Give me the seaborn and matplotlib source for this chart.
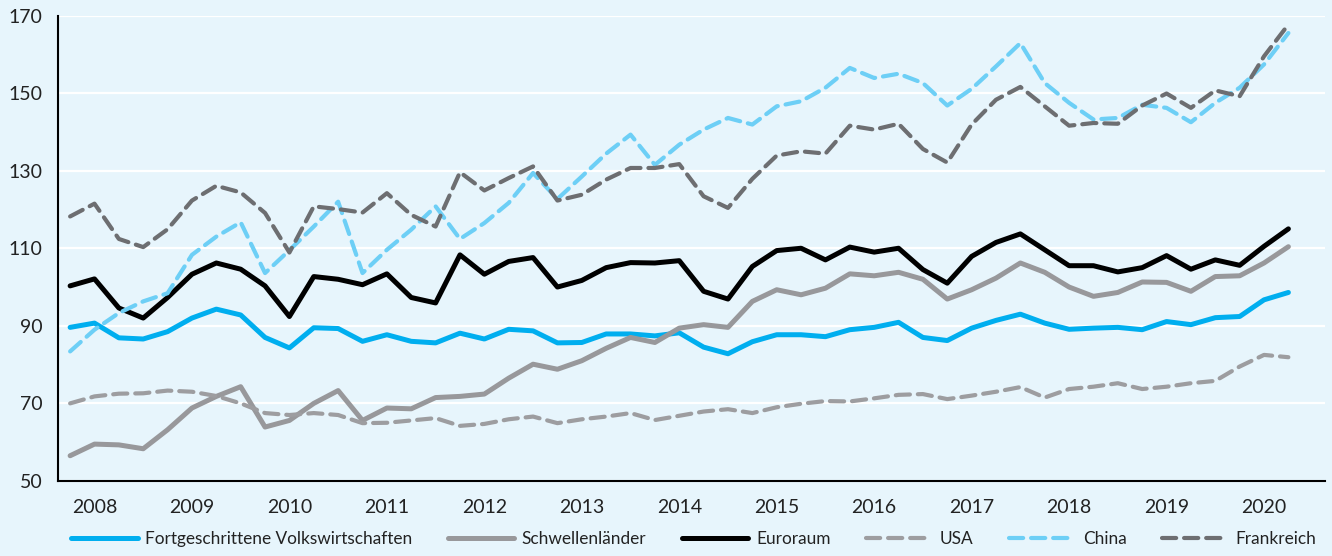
import numpy as np
import pandas as pd
import matplotlib
matplotlib.use("Agg")
import matplotlib.pyplot as plt
import seaborn as sns

# quarterly index values, 2008 Q1 .. 2020 Q3
years = list(range(2008, 2021))
quarters = list(range(51))

fortgeschrittene = [89.6, 90.7, 86.9, 86.6, 88.5, 92.0, 94.3, 92.8, 87.0, 84.3,
                    89.5, 89.3, 86.0, 87.7, 86.0, 85.6, 88.1, 86.6, 89.1, 88.7,
                    85.6, 85.7, 87.9, 87.9, 87.4, 88.2, 84.5, 82.8, 85.9, 87.7,
                    87.7, 87.2, 89.0, 89.6, 90.9, 87.0, 86.2, 89.4, 91.4, 93.0,
                    90.7, 89.1, 89.4, 89.6, 89.0, 91.1, 90.3, 92.1, 92.4, 96.7,
                    98.6]
schwellen = [56.5, 59.5, 59.3, 58.3, 63.2, 68.8, 71.8, 74.3, 63.9, 65.6,
             70.0, 73.3, 65.6, 68.8, 68.6, 71.5, 71.8, 72.4, 76.5, 80.1,
             78.8, 81.0, 84.2, 87.0, 85.7, 89.4, 90.3, 89.6, 96.3, 99.3,
             98.0, 99.7, 103.4, 102.9, 103.8, 102.0, 96.9, 99.3, 102.3, 106.2,
             103.8, 100.0, 97.6, 98.6, 101.3, 101.2, 98.9, 102.7, 102.9, 106.2,
             110.4]
euroraum = [100.3, 102.1, 94.6, 92.0, 97.3, 103.3, 106.2, 104.6, 100.3, 92.4,
            102.7, 102.0, 100.6, 103.4, 97.3, 95.9, 108.3, 103.3, 106.6, 107.6,
            100.0, 101.7, 105.0, 106.3, 106.2, 106.8, 98.9, 96.9, 105.3, 109.4,
            110.0, 107.0, 110.3, 109.0, 110.0, 104.5, 101.0, 107.9, 111.5, 113.7,
            109.6, 105.5, 105.5, 103.9, 105.0, 108.1, 104.6, 107.0, 105.6, 110.5,
            115.0]
usa = [70.0, 71.8, 72.5, 72.6, 73.3, 73.0, 71.9, 70.0, 67.5, 67.0,
       67.5, 67.0, 64.9, 65.0, 65.6, 66.2, 64.2, 64.7, 65.9, 66.6,
       64.9, 65.9, 66.6, 67.5, 65.7, 66.8, 67.9, 68.5, 67.5, 69.0,
       69.9, 70.6, 70.5, 71.3, 72.2, 72.4, 71.1, 72.0, 73.0, 74.2,
       71.5, 73.7, 74.3, 75.2, 73.7, 74.3, 75.2, 75.8, 79.5, 82.5,
       81.9]
china = [83.4, 89.0, 93.3, 96.3, 98.4, 108.3, 113.0, 116.7, 103.6, 109.5,
         115.6, 122.0, 103.6, 109.6, 114.8, 120.8, 112.4, 116.5, 121.7, 129.4,
         122.7, 128.5, 134.4, 139.3, 131.5, 136.7, 140.6, 143.6, 141.9, 146.6,
         147.9, 151.4, 156.5, 153.9, 155.0, 152.6, 146.8, 151.1, 156.9, 162.9,
         152.6, 147.5, 143.2, 143.6, 147.0, 146.2, 142.5, 147.5, 151.4, 157.4,
         165.5]
frankreich = [118.2, 121.5, 112.4, 110.3, 114.9, 122.3, 126.1, 124.4, 119.1, 108.9,
              120.8, 120.1, 119.2, 124.2, 118.6, 115.6, 129.6, 124.9, 128.1, 131.1,
              122.3, 123.8, 127.7, 130.7, 130.7, 131.7, 123.4, 120.4, 127.9, 133.9,
              135.0, 134.4, 141.6, 140.6, 142.1, 135.6, 132.1, 141.9, 148.3, 151.6,
              146.6, 141.6, 142.3, 142.1, 146.8, 149.9, 146.2, 150.7, 149.2, 159.5,
              167.7]

series = [
    ("Fortgeschrittene Volkswirtschaften", fortgeschrittene, "#00aeef", None),
    ("Schwellenländer", schwellen, "#98989b", None),
    ("Euroraum", euroraum, "#000000", None),
    ("USA", usa, "#9d9da0", (3.4, 1.9)),
    ("China", china, "#6dcff6", (3.4, 1.9)),
    ("Frankreich", frankreich, "#6d6e71", (3.4, 1.9)),
]

bg = "#e7f5fc"
sns.set_style("white", {"axes.facecolor": bg, "figure.facecolor": bg})
plt.rcParams["font.family"] = ["Lato", "DejaVu Sans"]

fig, ax = plt.subplots(figsize=(13.32, 5.56), dpi=100)
fig.subplots_adjust(left=0.0435, right=0.9947, top=0.972, bottom=0.135)

for name, vals, col, dash in series:
    df = pd.DataFrame({"quarter": quarters, "value": vals})
    lw = 3.6 if dash is None else 3.0
    sns.lineplot(data=df, x="quarter", y="value", ax=ax, color=col, linewidth=lw,
                 label=name, solid_capstyle="round", dash_capstyle="round")
    if dash is not None:
        ax.lines[-1].set_dashes(dash)

ax.set_xlim(-0.5, 51.5)
ax.set_ylim(50, 170)
ax.set_yticks(range(50, 171, 20))
ax.set_xticks([-0.5 + 4 * k for k in range(14)])
ax.set_xticklabels([])
ax.set_xticks([1 + 4 * k for k in range(13)], minor=True)
ax.set_xticklabels([str(y) for y in years], minor=True)
ax.tick_params(axis="both", which="major", direction="inout", length=8, width=1.5,
               color="black", labelsize=14, labelcolor="#222222")
ax.tick_params(axis="y", pad=7)
ax.tick_params(axis="x", which="minor", length=0, pad=13, labelsize=14,
               labelcolor="#222222")
ax.set_xlabel("")
ax.set_ylabel("")

ax.yaxis.grid(True, color="white", linewidth=1.6)
ax.xaxis.grid(False)
ax.set_axisbelow(True)
sns.despine(ax=ax)
for s in ["left", "bottom"]:
    ax.spines[s].set_color("black")
    ax.spines[s].set_linewidth(1.5)

ax.get_legend().remove()
handles, labels = ax.get_legend_handles_labels()
fig.legend(handles, labels, loc="lower center", bbox_to_anchor=(0.521, -0.012), ncol=6,
           frameon=False, fontsize=12.4, handlelength=3.85, handletextpad=0.45,
           columnspacing=2.05, labelcolor="#222222")

fig.savefig("out.png", dpi=100, facecolor=bg)
